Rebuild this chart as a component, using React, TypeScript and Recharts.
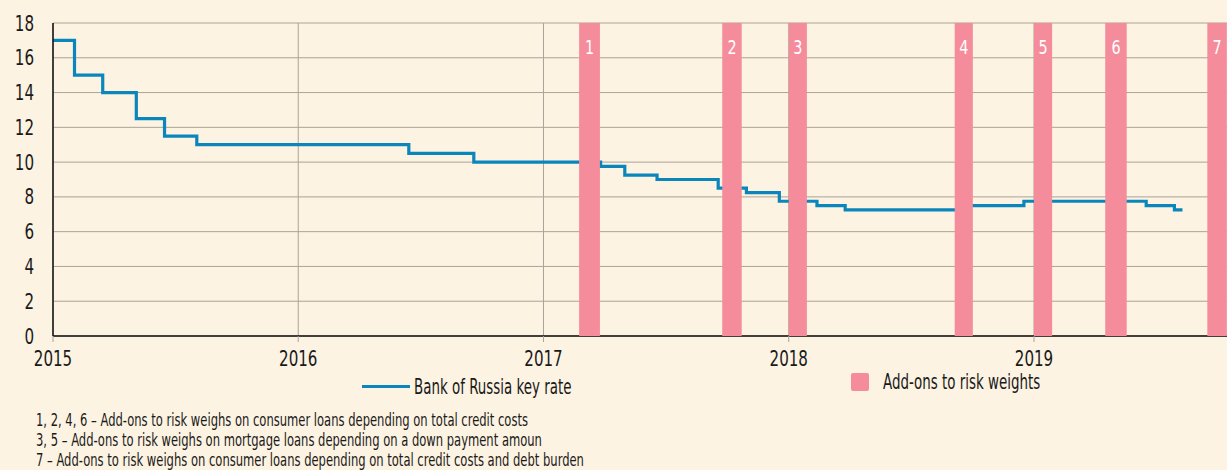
import { LineChart, Line, XAxis, YAxis, CartesianGrid, ReferenceArea } from 'recharts'

// key rate change points (date, %)
const rateDates = [
  '2015-01-01', '2015-02-02', '2015-03-16', '2015-05-05', '2015-06-16', '2015-08-03',
  '2016-06-14', '2016-09-19', '2017-03-27', '2017-05-02', '2017-06-19', '2017-09-18',
  '2017-10-30', '2017-12-18', '2018-02-12', '2018-03-26', '2018-09-17', '2018-12-17',
  '2019-06-17', '2019-07-29', '2019-08-10',
]
const rateValues = [
  17, 15, 14, 12.5, 11.5, 11,
  10.5, 10, 9.75, 9.25, 9, 8.5,
  8.25, 7.75, 7.5, 7.25, 7.5, 7.75,
  7.5, 7.25, 7.25,
]

// add-on periods
const bandLabels = ['1', '2', '3', '4', '5', '6', '7']
const bandStarts = ['2017-02-23', '2017-09-24', '2018-01-01', '2018-09-05', '2019-01-01', '2019-04-17', '2019-09-16']
const bandEnds = ['2017-03-26', '2017-10-23', '2018-01-28', '2018-10-02', '2019-01-28', '2019-05-19', '2019-10-15']

const yearTicks = [2015, 2016, 2017, 2018, 2019]
const rateTicks = [0, 2, 4, 6, 8, 10, 12, 14, 16, 18]

const notes = [
  '1, 2, 4, 6 – Add-ons to risk weighs on consumer loans depending on total credit costs',
  '3, 5 – Add-ons to risk weighs on mortgage loans depending on a down payment amoun',
  '7 – Add-ons to risk weighs on consumer loans depending on total credit costs and debt burden',
]

const BG = '#fdf3e2'
const BLUE = '#0a86bc'
const PINK = '#f58c9b'
const GRID = '#aba398'
const INK = '#1a1a1a'
const FONT = "'DejaVu Sans Condensed', 'DejaVu Sans', sans-serif"

function toYear(s: string) {
  const d = new Date(s + 'T00:00:00Z')
  const y = d.getUTCFullYear()
  const start = Date.UTC(y, 0, 1)
  const end = Date.UTC(y + 1, 0, 1)
  return y + (d.getTime() - start) / (end - start)
}

const data = rateDates.map((d, i) => ({ t: toYear(d), rate: rateValues[i] }))

// narrow text, the source uses a condensed face
function XTick(props: any) {
  const { x, y, payload } = props
  return (
    <g transform={`translate(${x},${y})`}>
      <text transform="scale(0.8,1)" textAnchor="middle" dy="0.85em" fill={INK} fontSize={21} fontFamily={FONT}>
        {payload.value}
      </text>
    </g>
  )
}

function YTick(props: any) {
  const { x, y, payload } = props
  return (
    <g transform={`translate(${x},${y})`}>
      <text transform="scale(0.8,1)" textAnchor="end" dy="0.36em" fill={INK} fontSize={21} fontFamily={FONT}>
        {payload.value}
      </text>
    </g>
  )
}

function BandLabel(props: any) {
  const { viewBox, value } = props
  if (!viewBox) return null
  const cx = viewBox.x + viewBox.width / 2
  return (
    <g transform={`translate(${cx},${viewBox.y + 24})`}>
      <text transform="scale(0.8,1)" textAnchor="middle" dy="0.36em" fill="#ffffff" fontSize={20} fontFamily={FONT}>
        {value}
      </text>
    </g>
  )
}

const narrow = (sx: number): any => ({
  display: 'inline-block',
  transform: `scaleX(${sx})`,
  transformOrigin: 'left center',
  whiteSpace: 'nowrap',
})

export default function App() {
  return (
    <div style={{ position: 'absolute', left: 0, top: 0, width: 1227, height: 470, background: BG, fontFamily: FONT, color: INK, overflow: 'hidden' }}>
      <LineChart width={1227} height={470} data={data} margin={{ top: 23, right: 0, bottom: 104, left: 0 }}>
        <CartesianGrid stroke={GRID} strokeWidth={1} verticalValues={yearTicks} />
        <XAxis
          type="number"
          dataKey="t"
          domain={[2015, 2019.787]}
          ticks={yearTicks}
          allowDataOverflow
          height={30}
          tick={<XTick />}
          axisLine={{ stroke: '#111', strokeWidth: 1.5 }}
          tickLine={{ stroke: GRID }}
          tickSize={6}
          tickMargin={6}
        />
        <YAxis
          domain={[0, 18]}
          ticks={rateTicks}
          width={53}
          tick={<YTick />}
          axisLine={{ stroke: '#111', strokeWidth: 1.5 }}
          tickLine={false}
          tickSize={0}
          tickMargin={19}
        />
        <Line
          type="stepAfter"
          dataKey="rate"
          stroke={BLUE}
          strokeWidth={3.2}
          dot={false}
          isAnimationActive={false}
        />
        {bandLabels.map((lab, i) => (
          <ReferenceArea
            key={lab}
            x1={toYear(bandStarts[i])}
            x2={toYear(bandEnds[i])}
            y1={0}
            y2={18}
            fill={PINK}
            fillOpacity={1}
            stroke="none"
            ifOverflow="hidden"
            zIndex={700}
            label={<BandLabel value={lab} />}
          />
        ))}
      </LineChart>

      {/* legend */}
      <div style={{ position: 'absolute', left: 362, top: 385, width: 48, height: 3, background: BLUE }} />
      <div style={{ position: 'absolute', left: 414, top: 375, fontSize: 21, lineHeight: '24px' }}>
        <span style={narrow(0.71)}>Bank of Russia key rate</span>
      </div>
      <div style={{ position: 'absolute', left: 851, top: 373, width: 18, height: 18, background: PINK, borderRadius: 2 }} />
      <div style={{ position: 'absolute', left: 883, top: 370, fontSize: 21, lineHeight: '24px' }}>
        <span style={narrow(0.71)}>Add-ons to risk weights</span>
      </div>

      {/* footnotes */}
      {notes.map((n, i) => (
        <div key={i} style={{ position: 'absolute', left: 36, top: 410 + i * 20, fontSize: 17, lineHeight: '20px' }}>
          <span style={narrow(0.755)}>{n}</span>
        </div>
      ))}
    </div>
  )
}
